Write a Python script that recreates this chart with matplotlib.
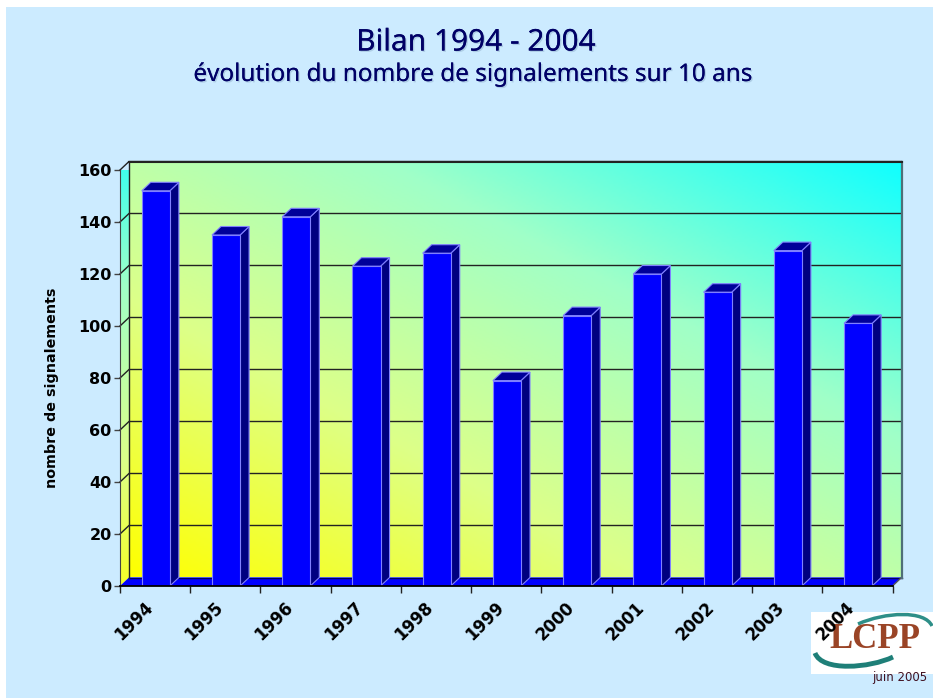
import numpy as np
import matplotlib
matplotlib.use('Agg')
import matplotlib.pyplot as plt
from matplotlib.colors import LinearSegmentedColormap
from matplotlib.patches import Polygon, Rectangle, PathPatch
from matplotlib.path import Path
import matplotlib.patheffects as pe

# data
years = ['1994', '1995', '1996', '1997', '1998', '1999', '2000', '2001', '2002', '2003', '2004']
counts = [152, 135, 142, 123, 128, 79, 104, 120, 113, 129, 101]
yticks = [0, 20, 40, 60, 80, 100, 120, 140, 160]

W, H = 933, 698
BG = '#CCEBFF'
fig = plt.figure(figsize=(W / 100, H / 100), dpi=100, facecolor='white')

# page background, white strip on top and left
page = fig.add_axes([0, 0, 1, 1])
page.set_xlim(0, W)
page.set_ylim(H, 0)
page.axis('off')
page.add_patch(Rectangle((6, 7), W - 6, H - 7, color=BG, lw=0))
page.add_patch(Rectangle((811, 612), 122, 62, color='white', lw=0, zorder=2))

# logo
page.add_patch(PathPatch(Path([(815, 653), (822, 672), (870, 668), (893, 657)],
                              [Path.MOVETO, Path.CURVE4, Path.CURVE4, Path.CURVE4]),
                         fc='none', ec='#1E7F78', lw=3.5, zorder=3))
page.add_patch(PathPatch(Path([(858, 624), (885, 612), (925, 610), (932, 626)],
                              [Path.MOVETO, Path.CURVE4, Path.CURVE4, Path.CURVE4]),
                         fc='none', ec='#2E8F88', lw=2.5, zorder=3))
page.text(875, 640, 'LCPP', ha='center', va='center', fontsize=25, fontweight='bold',
          family='Liberation Serif', color='#9A4426', zorder=4)

# front plane of the chart
left, right, top, bottom = 120, 892.5, 170, 586
ax = fig.add_axes([left / W, 1 - bottom / H, (right - left) / W, (bottom - top) / H])
ax.patch.set_alpha(0)

xmax = len(years)
ymax = 160
# depth of the 3d effect, in data units
dx = 9 / ((right - left) / xmax)
dy = 8.5 / ((bottom - top) / ymax)

cmap = LinearSegmentedColormap.from_list('wall', ['#FFFF00', '#DDFF88', '#A0FFC8', '#10FFFF'])
gx, gy = np.meshgrid(np.linspace(0, 1, 300), np.linspace(0, 1, 200))

# back wall
ax.imshow((gx + gy) / 2, extent=[dx, xmax + dx, dy, ymax + dy], origin='lower', cmap=cmap,
          vmin=0, vmax=1, aspect='auto', zorder=1, clip_on=False)
# left side wall
side = ax.imshow(0.1 + 0.8 * gy, extent=[0, dx, 0, ymax + dy], origin='lower', cmap=cmap,
                 vmin=0, vmax=1, aspect='auto', zorder=1)
side.set_clip_path(Polygon([(0, 0), (dx, dy), (dx, ymax + dy), (0, ymax)], transform=ax.transData))
ax.set_xlim(0, xmax)
ax.set_ylim(0, ymax)

# floor
ax.add_patch(Polygon([(0, 0), (dx, dy), (xmax + dx, dy), (xmax, 0)], fc='#0000FF', ec='none',
                     zorder=2, clip_on=False))
ax.plot([dx, xmax + dx], [dy, dy], color='#000060', lw=1, zorder=2, clip_on=False)
ax.plot([xmax, xmax + dx], [0, dy], color='#555555', lw=1, zorder=2, clip_on=False)

# grid lines on the walls
for v in yticks[1:]:
    ax.plot([0, dx, xmax + dx], [v, v + dy, v + dy], color='#222222', lw=1, zorder=2,
            clip_on=False, solid_joinstyle='miter')
ax.plot([dx, dx], [dy, ymax + dy], color='#222222', lw=1, zorder=2, clip_on=False)
ax.plot([xmax + dx, xmax + dx], [dy, ymax + dy], color='#4F6F78', lw=1.6, zorder=2, clip_on=False)
ax.plot([dx, xmax + dx], [ymax + dy, ymax + dy], color='#222222', lw=1.5, zorder=2, clip_on=False)

# bars
bw = 0.40
edge = '#8080FF'
for i, v in enumerate(counts):
    x0 = i + 0.5 - bw / 2 + 0.01
    x1 = x0 + bw
    ax.add_patch(Polygon([(x1, 0), (x1 + dx, dy), (x1 + dx, v + dy), (x1, v)], fc='#000080',
                         ec=edge, lw=0.8, zorder=3, clip_on=False))
    ax.add_patch(Polygon([(x0, v), (x0 + dx, v + dy), (x1 + dx, v + dy), (x1, v)], fc='#000099',
                         ec=edge, lw=0.8, zorder=3, clip_on=False))
    ax.bar(x0, v, width=bw, align='edge', color='#0000FF', edgecolor=edge, linewidth=0.8, zorder=4)

# axes
for s in ['top', 'right']:
    ax.spines[s].set_visible(False)
ax.spines['left'].set_color('#444444')
ax.spines['left'].set_zorder(5)
ax.spines['bottom'].set_color('black')
ax.spines['bottom'].set_linewidth(1.3)
ax.spines['bottom'].set_zorder(6)

ax.set_yticks(yticks)
ax.set_yticklabels([str(v) for v in yticks], fontsize=11.5, fontweight='bold')
ax.set_xticks(np.arange(xmax + 1))
ax.set_xticklabels([''] * (xmax + 1))
ax.tick_params(axis='y', length=4.5, width=1, color='#444444', pad=1.5)
ax.tick_params(axis='x', length=5, width=1, color='#222222')
for i, y in enumerate(years):
    ax.annotate(y, xy=(i + 0.5, 0), xytext=(-15.5, -25), textcoords='offset points', rotation=45,
                ha='center', va='center', fontsize=12, fontweight='bold', color='black',
                annotation_clip=False, zorder=10)
fig.text(52 / W, 1 - 388 / H, 'nombre de signalements', rotation=90, ha='center', va='center',
         fontsize=10.3, fontweight='bold', color='black')

# titles
shadow = [pe.withSimplePatchShadow(offset=(1, -1), shadow_rgbFace='#6688AA', alpha=0.3), pe.Normal()]
fig.text(476 / W, 1 - 43 / H, 'Bilan 1994 - 2004', ha='center', va='center', fontsize=21.5,
         family='Noto Sans', color='#000066', path_effects=shadow)
fig.text(474 / W, 1 - 75 / H, 'évolution du nombre de signalements sur 10 ans', ha='center', va='center',
         fontsize=17.5, family='Noto Sans', color='#000066', path_effects=shadow)

fig.text(927 / W, 1 - 677 / H, 'juin 2005', ha='right', va='center', fontsize=8.5, color='#401020')

fig.savefig('out.png', dpi=100, facecolor=fig.get_facecolor())
